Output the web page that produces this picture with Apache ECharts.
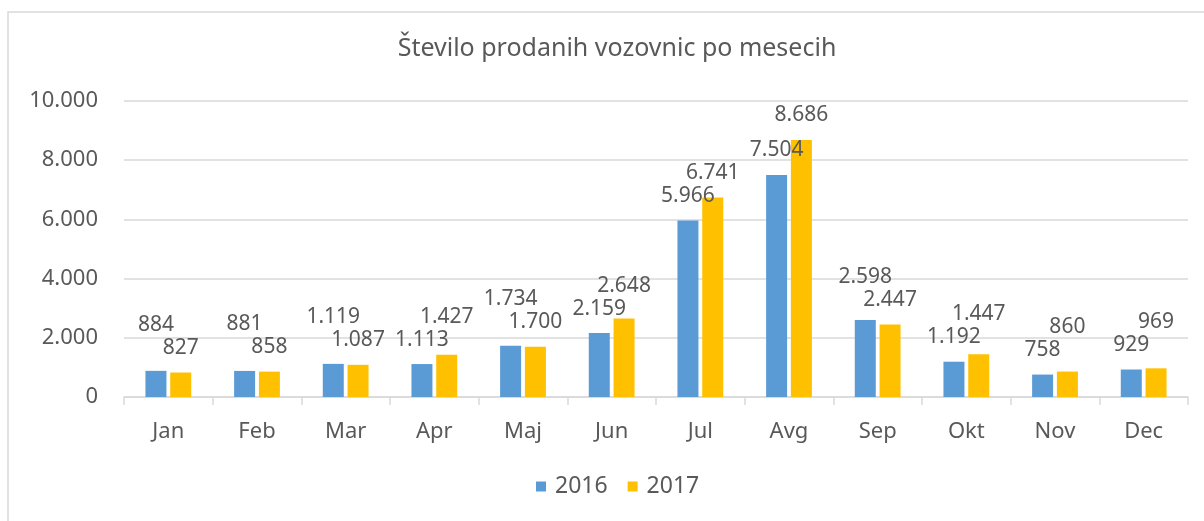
<!DOCTYPE html>
<html>
<head>
    <meta charset="utf-8">
    <title>Število prodanih vozovnic po mesecih</title>
    <script src="https://cdn.jsdelivr.net/npm/echarts@6/dist/echarts.min.js"></script>
    <style>
        html, body { margin: 0; padding: 0; background: #fff; }
        #main { width: 1204px; height: 521px; }
    </style>
</head>
<body>
<div id="main"></div>
<script type="text/javascript">
    // podatki
    var months = ['Jan', 'Feb', 'Mar', 'Apr', 'Maj', 'Jun', 'Jul', 'Avg', 'Sep', 'Okt', 'Nov', 'Dec'];
    var sales2016 = [884, 881, 1119, 1113, 1734, 2159, 5966, 7504, 2598, 1192, 758, 929];
    var sales2017 = [827, 858, 1087, 1427, 1700, 2648, 6741, 8686, 2447, 1447, 860, 969];
    var yTicks = [0, 2000, 4000, 6000, 8000, 10000];

    var textColor = '#595959';
    var fontName = 'Noto Sans';
    var allSeries = [sales2016, sales2017];

    // 1.234 -> slovenski zapis s piko
    function fmt(v) {
        return String(v).replace(/\B(?=(\d{3})+(?!\d))/g, '.');
    }

    // ce sta stolpca podobno visoka, oznako visjega dvignemo nad drugo oznako
    function liftLabel(p) {
        var own = allSeries[p.seriesIndex][p.dataIndex];
        var other = allSeries[1 - p.seriesIndex][p.dataIndex];
        if (own < other || (own === other && p.seriesIndex === 1)) return {};
        var pxPerUnit = p.rect.height / own;
        var diff = (own - other) * pxPerUnit;
        var need = 23;
        return diff < need ? { dy: diff - need } : {};
    }

    var myChart = echarts.init(document.getElementById('main'));

    var option = {
        animation: false,
        color: ['#5B9BD5', '#FFC000'],
        textStyle: { fontFamily: fontName, color: textColor },
        graphic: [{
            type: 'rect',
            shape: { x: 8, y: 12, width: 1400, height: 700 },
            style: { fill: 'none', stroke: '#d9d9d9', lineWidth: 1.5 },
            silent: true
        }],
        title: {
            text: 'Število prodanih vozovnic po mesecih',
            left: 612,
            textAlign: 'center',
            top: 31,
            textStyle: { fontFamily: fontName, fontSize: 25, fontWeight: 'normal', color: textColor }
        },
        legend: {
            data: ['2016', '2017'],
            bottom: 18,
            left: 531,
            itemWidth: 10,
            itemHeight: 10,
            itemGap: 20,
            icon: 'rect',
            textStyle: { fontFamily: fontName, fontSize: 23, color: textColor, padding: [0, 0, 0, 4] }
        },
        grid: { left: 124, right: 16, top: 101, bottom: 124 },
        xAxis: {
            type: 'category',
            data: months,
            axisLine: { lineStyle: { color: '#d9d9d9', width: 1.5 } },
            axisTick: { show: true, length: 8, lineStyle: { color: '#d9d9d9', width: 1.5 } },
            axisLabel: { fontFamily: fontName, fontSize: 22, color: textColor, margin: 24 }
        },
        yAxis: {
            type: 'value',
            min: yTicks[0],
            max: yTicks[yTicks.length - 1],
            interval: yTicks[1] - yTicks[0],
            axisLine: { show: false },
            axisTick: { show: false },
            splitLine: { lineStyle: { color: '#d9d9d9', width: 1.5 } },
            axisLabel: { fontFamily: fontName, fontSize: 22, color: textColor, margin: 26, formatter: fmt }
        },
        series: [{
            name: '2016',
            type: 'bar',
            data: sales2016,
            barWidth: 21,
            barGap: '18%',
            label: {
                show: true, position: 'top', distance: 14,
                fontFamily: fontName, fontSize: 21, color: textColor,
                formatter: function (p) { return fmt(p.value); }
            },
            labelLayout: liftLabel
        }, {
            name: '2017',
            type: 'bar',
            data: sales2017,
            barWidth: 21,
            label: {
                show: true, position: 'top', distance: 14, offset: [4, 0],
                fontFamily: fontName, fontSize: 21, color: textColor,
                formatter: function (p) { return fmt(p.value); }
            },
            labelLayout: liftLabel
        }]
    };

    myChart.setOption(option);
</script>
</body>
</html>
